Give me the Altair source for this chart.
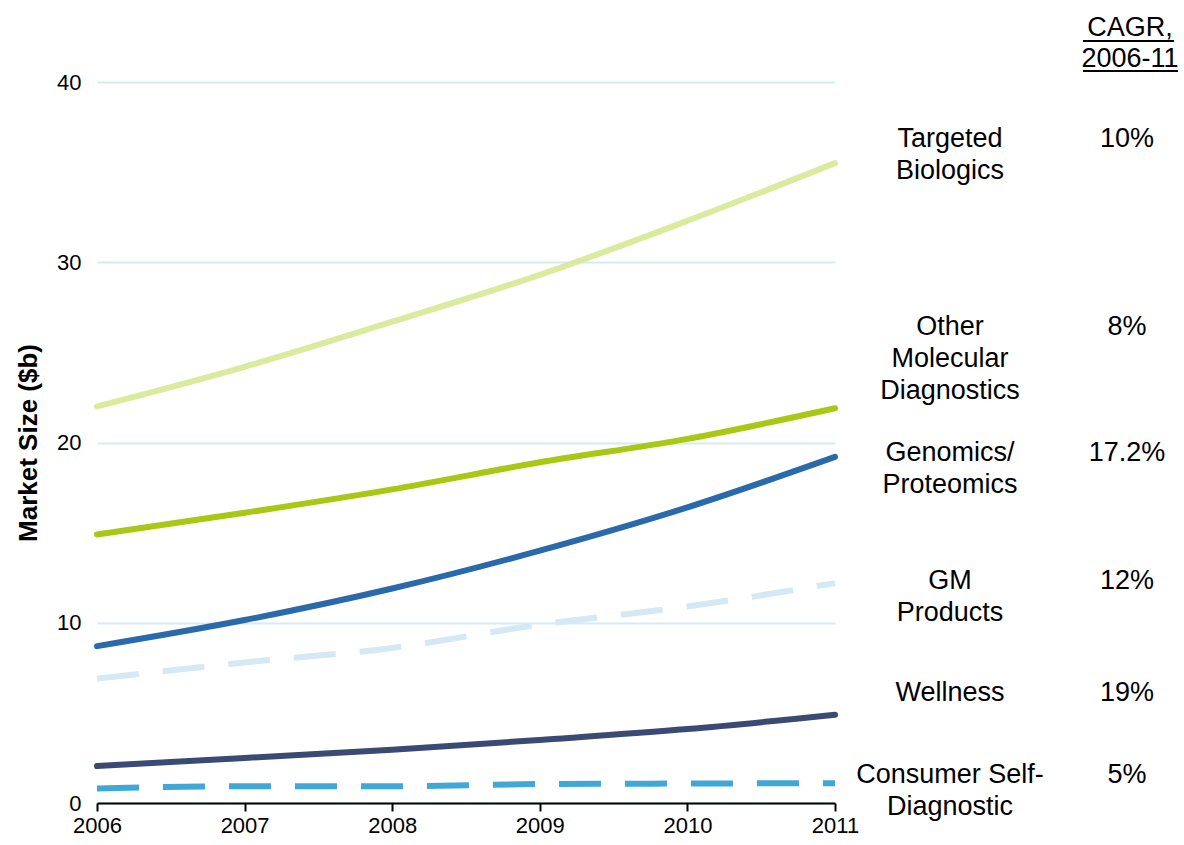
import altair as alt
import pandas as pd

# ---------------- data ----------------
years = [2006, 2007, 2008, 2009, 2010, 2011]
targeted_biologics = [22.0, 24.2, 26.7, 29.3, 32.3, 35.5]
other_molecular_dx = [14.9, 16.1, 17.4, 18.9, 20.2, 21.9]
genomics_proteomics = [8.7, 10.15, 11.9, 14.0, 16.4, 19.2]
gm_products = [6.9, 7.8, 8.6, 9.9, 10.9, 12.2]
wellness = [2.05, 2.5, 2.95, 3.5, 4.1, 4.9]
consumer_self_dx = [0.8, 0.93, 0.93, 1.05, 1.08, 1.1]

series_names = ["Targeted Biologics", "Other Molecular Diagnostics", "Genomics/Proteomics",
                "GM Products", "Wellness", "Consumer Self-Diagnostic"]
series_values = [targeted_biologics, other_molecular_dx, genomics_proteomics,
                 gm_products, wellness, consumer_self_dx]
series_dashed = [False, False, False, True, False, True]
series_colors = ["#dbeb9d", "#a8c814", "#2a69aa", "#d4e9f3", "#3a4a73", "#3fa8d7"]

label_texts = ["Targeted\nBiologics", "Other\nMolecular\nDiagnostics", "Genomics/\nProteomics",
               "GM\nProducts", "Wellness", "Consumer Self-\nDiagnostic"]
cagr_texts = ["10%", "8%", "17.2%", "12%", "19%", "5%"]
header_text = ["CAGR,", "2006-11"]

rows = []
for name, vals, dashed in zip(series_names, series_values, series_dashed):
    for yr, v in zip(years, vals):
        rows.append({"year": yr, "value": v, "series": name, "dashed": dashed})
df = pd.DataFrame(rows)

# ---------------- layout constants (pixels, relative to plot origin) ----------------
W, H = 738, 721
PAD = {"left": 97, "top": 82, "right": 1184 - 97 - 738, "bottom": 845 - 82 - 721}
FONT = "Liberation Sans"
LABEL_X = 853
CAGR_X = 1030
HEADER_X = 1033
label_baselines = [147 - 82, 335 - 82, 461 - 82, 589 - 82, 701 - 82, 783 - 82]
header_baselines = [36 - 82, 67 - 82]
underline_y = [41 - 82, 71 - 82]
underline_x = [(1083 - 97, 1174 - 97), (1083 - 97, 1178 - 97)]

color_scale = alt.Scale(domain=series_names, range=series_colors)
x_enc = alt.X("year:Q", scale=alt.Scale(domain=[2006, 2011], nice=False, zero=False),
              axis=alt.Axis(values=years, format="d", title=None, grid=False,
                            labelFlush=False,
                            domainColor="black", domainWidth=2, tickColor="black",
                            tickWidth=2, tickSize=8, labelFontSize=22, labelColor="black",
                            labelFont=FONT, labelPadding=4))
y_enc = alt.Y("value:Q", scale=alt.Scale(domain=[0, 40], nice=False),
              axis=alt.Axis(values=[0, 10, 20, 30, 40], title="Market Size ($b)",
                            titleFontSize=26, titleFontWeight="bold", titleFont=FONT,
                            titleColor="black", titlePadding=15,
                            grid=True, gridColor="#d6eaf4", gridWidth=2,
                            domain=False, ticks=False, labelFontSize=22,
                            labelColor="black", labelFont=FONT, labelPadding=16,
                            labelFlush=False))

base = alt.Chart(df)
solid = base.transform_filter("!datum.dashed").mark_line(
    strokeWidth=6, strokeCap="round", strokeJoin="round", interpolate="monotone"
).encode(x=x_enc, y=y_enc,
         color=alt.Color("series:N", scale=color_scale, legend=None),
         detail="series:N")
dashed = base.transform_filter("datum.dashed").mark_line(
    strokeWidth=6, strokeCap="butt", strokeDash=[42, 24], interpolate="monotone"
).encode(x=x_enc, y=y_enc,
         color=alt.Color("series:N", scale=color_scale, legend=None),
         detail="series:N")

layers = [dashed, solid]

for txt, cg, yb in zip(label_texts, cagr_texts, label_baselines):
    layers.append(
        alt.Chart(pd.DataFrame({"t": [txt]})).mark_text(
            lineBreak="\n", align="center", baseline="alphabetic", fontSize=27,
            lineHeight=32, font=FONT, color="black"
        ).encode(text="t:N", x=alt.value(LABEL_X), y=alt.value(yb))
    )
    layers.append(
        alt.Chart(pd.DataFrame({"t": [cg]})).mark_text(
            align="center", baseline="alphabetic", fontSize=27, font=FONT, color="black"
        ).encode(text="t:N", x=alt.value(CAGR_X), y=alt.value(yb))
    )

for txt, yb in zip(header_text, header_baselines):
    layers.append(
        alt.Chart(pd.DataFrame({"t": [txt]})).mark_text(
            align="center", baseline="alphabetic", fontSize=27, font=FONT, color="black"
        ).encode(text="t:N", x=alt.value(HEADER_X), y=alt.value(yb))
    )

for (x1, x2), yu in zip(underline_x, underline_y):
    layers.append(
        alt.Chart(pd.DataFrame({"k": [0]})).mark_rule(color="black", strokeWidth=2).encode(
            x=alt.value(x1), x2=alt.value(x2), y=alt.value(yu)
        )
    )

chart = alt.layer(*layers).properties(
    width=W, height=H, autosize=alt.AutoSizeParams(type="none"), padding=PAD,
    background="white"
).configure_view(stroke=None, strokeWidth=0)

chart.save("out.html", embed_options={"renderer": "svg", "actions": False})
